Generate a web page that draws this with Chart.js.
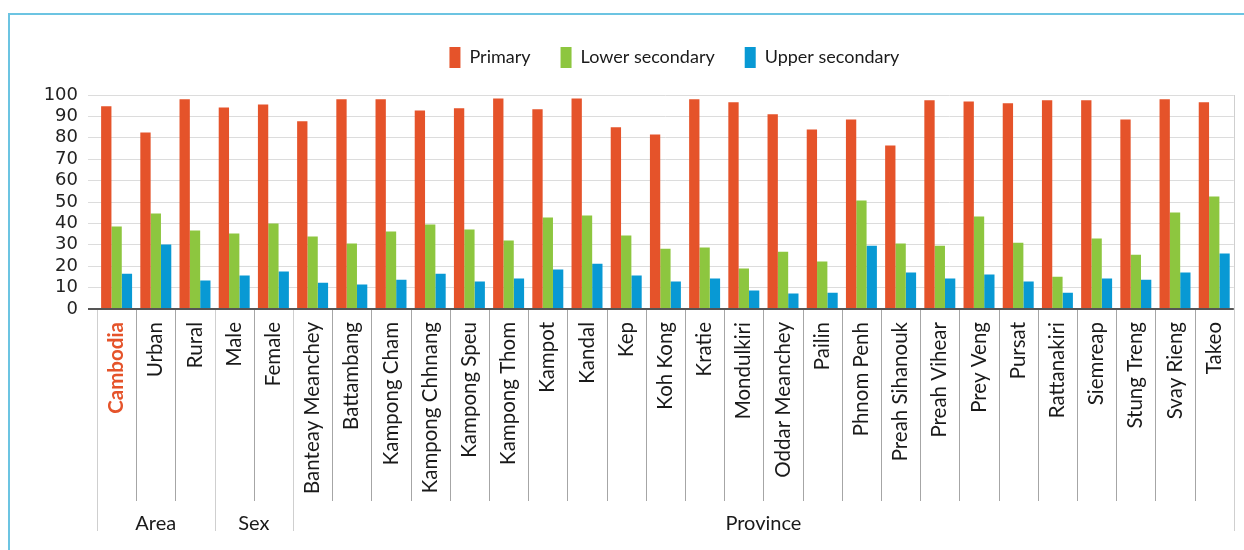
<!DOCTYPE html>
<html>
<head>
<meta charset="utf-8">
<title>Attendance by level</title>
<script src="https://cdn.jsdelivr.net/npm/chart.js@4.4.1/dist/chart.umd.min.js"></script>
<style>
  html, body { margin: 0; padding: 0; background: #fff; overflow: hidden; }
  #wrap { position: relative; width: 1244px; height: 550px; }
  #frame { position: absolute; left: 8px; top: 13px; width: 1260px; height: 560px;
           border-left: 2px solid #6cc4e2; border-top: 2px solid #6cc4e2; }
  #chart { position: absolute; left: 0; top: 0; }
</style>
</head>
<body>
<div id="wrap">
  <div id="frame"></div>
  <canvas id="chart" width="1244" height="550"></canvas>
</div>
<script>
const categories = ['Cambodia', 'Urban', 'Rural', 'Male', 'Female', 'Banteay Meanchey', 'Battambang',
  'Kampong Cham', 'Kampong Chhnang', 'Kampong Speu', 'Kampong Thom', 'Kampot', 'Kandal', 'Kep',
  'Koh Kong', 'Kratie', 'Mondulkiri', 'Oddar Meanchey', 'Pailin', 'Phnom Penh', 'Preah Sihanouk',
  'Preah Vihear', 'Prey Veng', 'Pursat', 'Rattanakiri', 'Siemreap', 'Stung Treng', 'Svay Rieng', 'Takeo'];

const primary = [94.7, 82.5, 98.0, 94.2, 95.6, 87.7, 98.0, 98.0, 92.8, 93.8, 98.4, 93.3, 98.4, 84.9, 81.6,
  98.0, 96.6, 91.0, 83.9, 88.6, 76.4, 97.5, 97.0, 96.1, 97.5, 97.5, 88.6, 98.0, 96.6];
const lowerSecondary = [38.5, 44.6, 36.7, 35.3, 39.9, 33.9, 30.6, 36.2, 39.5, 37.1, 32.0, 42.7, 43.7, 34.3, 28.2,
  28.7, 18.9, 26.8, 22.2, 50.7, 30.6, 29.6, 43.2, 31.0, 15.1, 32.9, 25.4, 45.1, 52.6];
const upperSecondary = [16.5, 30.1, 13.3, 15.6, 17.5, 12.3, 11.4, 13.7, 16.5, 12.8, 14.2, 18.4, 21.2, 15.6, 12.8,
  14.2, 8.6, 7.2, 7.6, 29.6, 17.0, 14.2, 16.1, 12.8, 7.6, 14.2, 13.7, 17.0, 25.9];

// groups under the category labels: name, first index, end index (exclusive)
const groupNames = ['Area', 'Sex', 'Province'];
const groupStart = [0, 3, 5];
const groupEnd = [3, 5, 29];

const RED = '#e5532a', GREEN = '#8dc63f', BLUE = '#0899d4';

// draws the category separators and the group labels below the axis
const groupAxis = {
  id: 'groupAxis',
  afterLayout(chart) {
    // legend sits a bit right of the plot centre in the original
    chart.legend.left += 9;
    chart.legend.right += 9;
  },
  afterDraw(chart) {
    const ctx = chart.ctx, x = chart.scales.x, area = chart.chartArea;
    const band = x.getPixelForValue(1) - x.getPixelForValue(0);
    const longBounds = groupStart.concat([groupEnd[groupEnd.length - 1]]);
    ctx.save();
    ctx.lineWidth = 1;
    for (let i = 0; i <= categories.length; i++) {
      const px = Math.round(x.getPixelForValue(i) - band / 2) + 0.5;
      const last = i === categories.length;
      const isLong = longBounds.includes(i);
      ctx.strokeStyle = isLong ? '#cfcfcf' : '#a6a6a6';
      ctx.beginPath();
      ctx.moveTo(px, last ? area.top : area.bottom + 1);
      ctx.lineTo(px, isLong ? 531 : 501);
      ctx.stroke();
    }
    ctx.fillStyle = '#1a1a1a';
    ctx.font = '20px Lato';
    ctx.textAlign = 'center';
    ctx.textBaseline = 'middle';
    groupNames.forEach((name, g) => {
      const a = x.getPixelForValue(groupStart[g]) - band / 2;
      const b = x.getPixelForValue(groupEnd[g]) - band / 2;
      ctx.fillText(name, (a + b) / 2, 524);
    });
    ctx.restore();
  }
};

new Chart(document.getElementById('chart'), {
  type: 'bar',
  data: {
    labels: categories,
    datasets: [
      { label: 'Primary', data: primary, backgroundColor: RED },
      { label: 'Lower secondary', data: lowerSecondary, backgroundColor: GREEN },
      { label: 'Upper secondary', data: upperSecondary, backgroundColor: BLUE }
    ]
  },
  options: {
    responsive: false,
    animation: false,
    layout: { padding: { top: 17, right: 10, bottom: 0, left: 0 } },
    datasets: { bar: { barPercentage: 1.0, categoryPercentage: 0.79 } },
    scales: {
      x: {
        grid: { display: false },
        border: { display: false },
        ticks: {
          autoSkip: false,
          minRotation: 90,
          maxRotation: 90,
          padding: 5,
          color: c => c.index === 0 ? RED : '#1a1a1a',
          font: c => c.index === 0 ? { family: 'Lato', size: 20.5, weight: 'bold' } : { family: 'Lato', size: 20.5 }
        },
        afterFit: s => { s.height = 241; }
      },
      y: {
        min: 0,
        max: 100,
        border: { display: false },
        grid: {
          tickLength: 9,
          color: c => c.tick && c.tick.value === 0 ? '#555555' : '#dcdcdc',
          lineWidth: c => c.tick && c.tick.value === 0 ? 2 : 1
        },
        ticks: {
          stepSize: 10,
          autoSkip: false,
          padding: 10,
          color: '#222222',
          font: { family: 'DejaVu Sans', size: 18 }
        },
        afterFit: s => { s.width = 97; }
      }
    },
    plugins: {
      legend: {
        position: 'top',
        fullSize: false,
        labels: {
          boxWidth: 11,
          boxHeight: 21,
          padding: 30,
          color: '#1a1a1a',
          font: { family: 'Lato', size: 18 }
        }
      },
      // empty spacer between legend and plot
      subtitle: {
        display: true,
        text: '',
        weight: 500,
        font: { size: 10 },
        padding: { top: 3, bottom: 2 }
      },
      tooltip: { enabled: false }
    }
  },
  plugins: [groupAxis]
});
</script>
</body>
</html>
